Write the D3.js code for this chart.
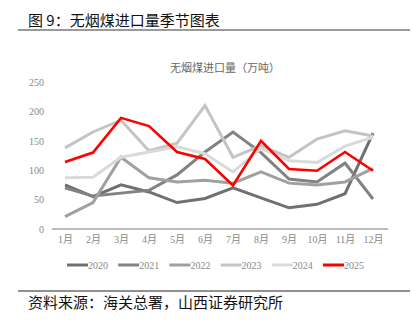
<!DOCTYPE html>
<html><head><meta charset="utf-8">
<script src="https://cdn.jsdelivr.net/npm/d3@7"></script>
<style>
body{margin:0;background:#fff;}
svg{display:block;}
</style></head>
<body>
<svg id="c" width="412" height="324"></svg>
<script>
const months = ["1月","2月","3月","4月","5月","6月","7月","8月","9月","10月","11月","12月"];
const yTicks = [0,50,100,150,200,250];
const years = ["2020","2021","2022","2023","2024","2025"];
const v2020 = [75,55,75,63,45,52,70,53,36,42,60,163];
const v2021 = [70,56,61,66,92,131,165,130,85,80,112,51];
const v2022 = [21,45,122,87,80,83,78,97,78,75,80,103];
const v2023 = [138,165,185,133,146,210,122,142,122,153,167,158];
const v2024 = [87,88,122,131,140,128,97,137,116,113,141,156];
const v2025 = [114,130,189,175,131,119,74,150,102,99,131,99];
const seriesValues = [v2020,v2021,v2022,v2023,v2024,v2025];
const colors = ["#707070","#828282","#a0a0a0","#c4c4c4","#dadada","#ff0000"];

const svg = d3.select("#c");
const serif = "'Liberation Serif','Noto Sans CJK SC',serif";
const cjk = "'Noto Sans CJK SC','Noto Sans',sans-serif";

// header
svg.append("text").attr("x",28).attr("y",26).attr("font-family",cjk)
  .attr("font-size",15).attr("fill","#111").text("图 9：无烟煤进口量季节图表");
svg.append("line").attr("x1",18).attr("x2",410).attr("y1",30).attr("y2",30)
  .attr("stroke","#9a9a9a").attr("stroke-width",2);

// chart title
svg.append("text").attr("x",225).attr("y",72).attr("text-anchor","middle")
  .attr("font-family",cjk).attr("font-size",11).attr("fill","#666")
  .text("无烟煤进口量（万吨）");

const x = d3.scalePoint().domain(months).range([65,373]);
const y = d3.scaleLinear().domain([0,250]).range([229,82]);

// y axis labels
const ya = svg.append("g").attr("transform","translate(44,0)")
  .call(d3.axisLeft(y).tickValues(yTicks).tickSize(0).tickPadding(0));
ya.select(".domain").remove();
ya.selectAll("text").attr("font-family",serif).attr("font-size",10).attr("fill","#888");

// x axis
const xa = svg.append("g").attr("transform","translate(0,229)")
  .call(d3.axisBottom(x).tickSize(0).tickPadding(7));
xa.select(".domain").remove();
xa.selectAll("text").attr("font-family",serif).attr("font-size",10).attr("fill","#888");
svg.append("line").attr("x1",52).attr("x2",388).attr("y1",229).attr("y2",229)
  .attr("stroke","#bdbdbd").attr("stroke-width",2);

const line = d3.line().x((d,i)=>x(months[i])).y(d=>y(d));
seriesValues.forEach((vals,k)=>{
  svg.append("path").datum(vals).attr("d",line).attr("fill","none")
    .attr("stroke",colors[k]).attr("stroke-width",k===5?2.6:3)
    .attr("stroke-linejoin","miter");
});

// legend
const lg = svg.append("g");
years.forEach((yr,k)=>{
  const lx = 67 + k*51.2;
  lg.append("line").attr("x1",lx).attr("x2",lx+21).attr("y1",265).attr("y2",265)
    .attr("stroke",colors[k]).attr("stroke-width",3);
  lg.append("text").attr("x",lx+21).attr("y",268.5).attr("font-family",serif)
    .attr("font-size",10).attr("fill","#888").text(yr);
});

svg.append("line").attr("x1",18).attr("x2",410).attr("y1",291).attr("y2",291)
  .attr("stroke","#222").attr("stroke-width",1);
svg.append("text").attr("x",28).attr("y",308).attr("font-family",cjk)
  .attr("font-size",15).attr("fill","#111").text("资料来源：海关总署，山西证券研究所");
</script>
</body></html>
